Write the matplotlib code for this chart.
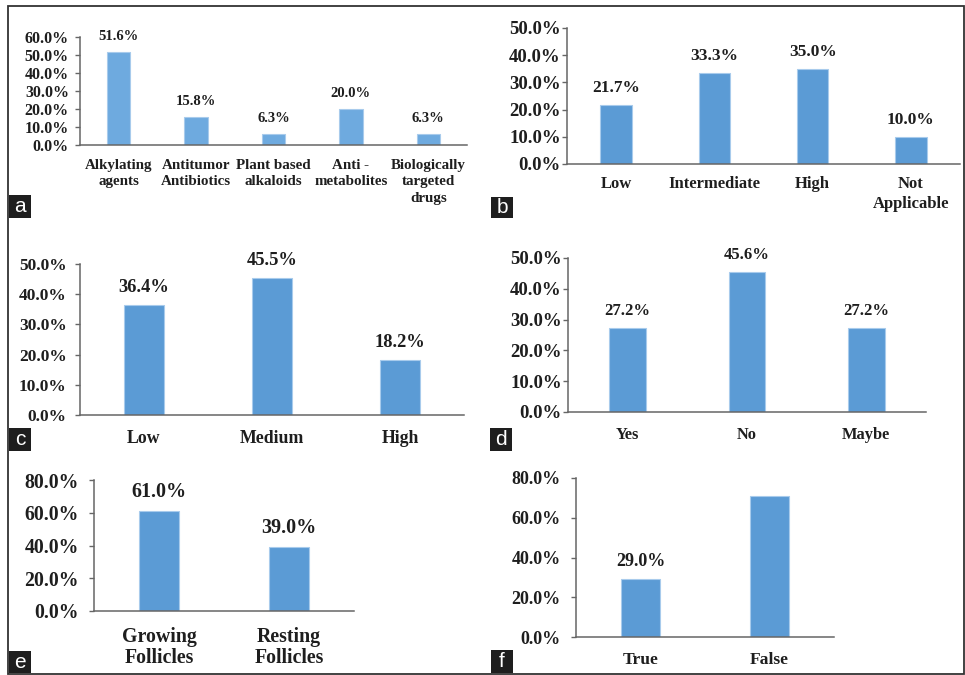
import matplotlib
matplotlib.use('Agg')
import matplotlib.pyplot as plt
from matplotlib.patches import Rectangle

W, H = 965, 675

# ---- data ----
a_labels = ['Alkylating\nagents', 'Antitumor\nAntibiotics', 'Plant based\nalkaloids',
            'Anti -\nmetabolites', 'Biologically\ntargeted\ndrugs']
a_values = [51.6, 15.8, 6.3, 20.0, 6.3]

b_labels = ['Low', 'Intermediate', 'High', 'Not\nApplicable']
b_values = [21.7, 33.3, 35.0, 10.0]

c_labels = ['Low', 'Medium', 'High']
c_values = [36.4, 45.5, 18.2]

d_labels = ['Yes', 'No', 'Maybe']
d_values = [27.2, 45.6, 27.2]

e_labels = ['Growing\nFollicles', 'Resting\nFollicles']
e_values = [61.0, 39.0]

f_labels = ['True', 'False']
f_values = [29.0, 71.0]
f_show = [True, False]


def px_rect(left, right, top, bottom):
    return [left / W, 1 - bottom / H, (right - left) / W, (bottom - top) / H]


plt.rcParams['font.family'] = ['Liberation Serif', 'DejaVu Serif']
plt.rcParams['font.weight'] = 'bold'

fig = plt.figure(figsize=(W / 100, H / 100), dpi=100)
fig.patch.set_facecolor('white')

# (letter, labels, values, show, rect, ymax, ystep, tick fs, value fs, cat fs, ypad, xpad, line spacing, colour, width)
panels = [
    ('a', a_labels, a_values, None, px_rect(80, 467, 37, 145), 60, 10, 11.5, 10.5, 10.8, 4.5, 10, 1.35, '#6eaadf', 0.30),
    ('b', b_labels, b_values, None, px_rect(567, 960, 28, 164), 50, 10, 13.5, 12.5, 12, 1, 9, 1.25, '#5b9bd5', 0.32),
    ('c', c_labels, c_values, None, px_rect(80, 464, 264, 415), 50, 10, 12.5, 13.3, 12.8, 6, 10.5, 1.15, '#5b9bd5', 0.31),
    ('d', d_labels, d_values, None, px_rect(568, 926, 258, 412), 50, 10, 13.5, 12, 11.8, 1, 10.5, 1.15, '#5b9bd5', 0.31),
    ('e', e_labels, e_values, None, px_rect(94, 354, 480, 611), 80, 20, 14.2, 14.5, 14.3, 7.5, 11.5, 1.1, '#5b9bd5', 0.31),
    ('f', f_labels, f_values, f_show, px_rect(576, 834, 478, 637), 80, 20, 13, 13, 12.6, 7.5, 10.5, 1.15, '#5b9bd5', 0.31),
]

for letter, labels, values, show, rect, ymax, ystep, tfs, vfs, cfs, ypad, xpad, lsp, colour, bw in panels:
    ax = fig.add_axes(rect)
    x = list(range(len(values)))
    ax.bar(x, values, width=bw, color=colour, edgecolor='#a8cbec', linewidth=0.8, zorder=2)
    ax.set_xlim(-0.5, len(values) - 0.5)
    ax.set_ylim(0, ymax)
    ticks = list(range(0, ymax + 1, ystep))
    ax.set_yticks(ticks)
    ax.set_yticklabels(['%.1f%%' % t for t in ticks], fontsize=tfs, fontweight='bold', color='#1e1e1e')
    ax.set_xticks(x)
    ax.set_xticklabels(labels, fontsize=cfs, fontweight='bold', color='#1e1e1e', linespacing=lsp)
    ax.tick_params(axis='x', length=0, pad=xpad)
    ax.tick_params(axis='y', length=3.5, width=1, color='#666666', pad=ypad)
    for side in ['top', 'right']:
        ax.spines[side].set_visible(False)
    for side in ['left', 'bottom']:
        ax.spines[side].set_color('#666666')
        ax.spines[side].set_linewidth(1.1)
    for i, v in enumerate(values):
        if show is not None and not show[i]:
            continue
        ax.annotate('%.1f%%' % v, (i, v), xytext=(0, 6.5), textcoords='offset points',
                    ha='center', va='bottom', fontsize=vfs, fontweight='bold', color='#1e1e1e')

# panel letter boxes (left, top, right, bottom in pixels)
boxes = {
    'a': (9, 195, 31, 218),
    'b': (491, 197, 513, 218),
    'c': (9, 428, 31, 451),
    'd': (490, 428, 512, 451),
    'e': (9, 651, 31, 673),
    'f': (491, 650, 513, 673),
}
for letter, (l, t, r, b) in boxes.items():
    fig.add_artist(Rectangle((l / W, 1 - b / H), (r - l) / W, (b - t) / H,
                             transform=fig.transFigure, facecolor='#1e1e1e', edgecolor='none'))
    fig.text((l + r) / 2 / W, 1 - (t + b) / 2 / H, letter, color='white', fontsize=15,
             family='Liberation Sans', fontweight='normal', ha='center', va='center')

# outer border
fig.add_artist(Rectangle((8 / W, 1 - 674 / H), (964 - 8) / W, (674 - 6) / H,
                         transform=fig.transFigure, facecolor='none', edgecolor='#333333', linewidth=1.3))

fig.savefig('out.png', dpi=100)
